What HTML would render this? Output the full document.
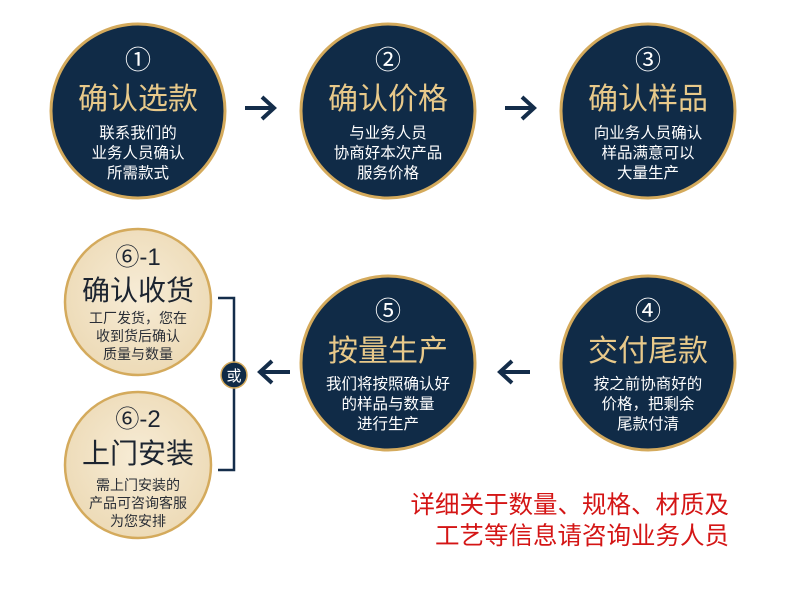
<!DOCTYPE html>
<html><head><meta charset="utf-8"><style>
html,body{margin:0;padding:0;background:#fff}
svg{display:block}
text{font-family:"Liberation Sans","Noto Sans CJK SC",sans-serif}
.serif{font-family:"Noto Serif CJK SC","Liberation Serif",serif}
</style></head><body>
<svg width="790" height="589" viewBox="0 0 790 589" xmlns="http://www.w3.org/2000/svg">
<defs>
<radialGradient id="bg" cx="50%" cy="45%" r="60%"><stop offset="0" stop-color="#f7ecd6"/><stop offset="1" stop-color="#ecd9b4"/></radialGradient>
</defs>
<g stroke="#d4aa5c" stroke-width="3" fill="#102b47">
<circle cx="138" cy="111" r="87"/>
<circle cx="388" cy="111" r="87"/>
<circle cx="648" cy="111" r="87"/>
<circle cx="388" cy="363" r="87"/>
<circle cx="648" cy="363" r="87"/>
</g>
<g stroke="#d4aa5c" stroke-width="2.5" fill="url(#bg)">
<circle cx="138" cy="302" r="73"/>
<circle cx="138" cy="465" r="73"/>
</g>
<g stroke="#142d4a" stroke-width="4" fill="none" stroke-linecap="butt">
<path d="M245 108H273M262 97L274 108L262 119"/>
<path d="M505 108H533M522 97L534 108L522 119"/>
<path d="M530 372H501M512 361L500 372L512 383"/>
<path d="M290 372H261M272 361L260 372L272 383"/>
</g>
<path d="M218 298H234V470H218" stroke="#142d4a" stroke-width="2.5" fill="none"/>
<circle cx="234" cy="375" r="13" fill="#102b47" stroke="#d4aa5c" stroke-width="1.5"/>
<text x="234" y="381" font-size="15" fill="#fff" text-anchor="middle">或</text>
<g text-anchor="middle">
<g fill="#fff" font-size="26"><text x="138" y="69">①</text><text x="388" y="69">②</text><text x="648" y="69">③</text><text x="388" y="320">⑤</text><text x="648" y="320">④</text></g>
<g fill="#e8c98a" font-size="30" class="serif">
<text x="138" y="109">确认选款</text><text x="388" y="109">确认价格</text><text x="648" y="109">确认样品</text>
<text x="388" y="361">按量生产</text><text x="648" y="361">交付尾款</text></g>
<g fill="#fff" font-size="15.5">
<text x="138" y="138">联系我们的</text><text x="138" y="158">业务人员确认</text><text x="138" y="178">所需款式</text>
<text x="388" y="138">与业务人员</text><text x="388" y="158">协商好本次产品</text><text x="388" y="178">服务价格</text>
<text x="648" y="138">向业务人员确认</text><text x="648" y="158">样品满意可以</text><text x="648" y="178">大量生产</text>
<text x="388" y="389">我们将按照确认好</text><text x="388" y="409">的样品与数量</text><text x="388" y="429">进行生产</text>
<text x="648" y="389">按之前协商好的</text><text x="648" y="409">价格，把剩余</text><text x="648" y="429">尾款付清</text></g>
<g fill="#1c2430" class="serif">
<text x="138" y="265" font-size="24">⑥-1</text><text x="138" y="300" font-size="28">确认收货</text>
<text x="138" y="427" font-size="24">⑥-2</text><text x="138" y="463" font-size="28">上门安装</text></g>
<g fill="#2a2e36" font-size="14">
<text x="138" y="323">工厂发货，您在</text><text x="138" y="341">收到货后确认</text><text x="138" y="359">质量与数量</text>
<text x="138" y="490">需上门安装的</text><text x="138" y="508">产品可咨询客服</text><text x="138" y="526">为您安排</text></g>
</g>
<g fill="#d41515" font-size="24.5" text-anchor="end" class="serif">
<text x="729" y="513">详细关于数量、规格、材质及</text>
<text x="729" y="544">工艺等信息请咨询业务人员</text>
</g>
</svg>
</body></html>
